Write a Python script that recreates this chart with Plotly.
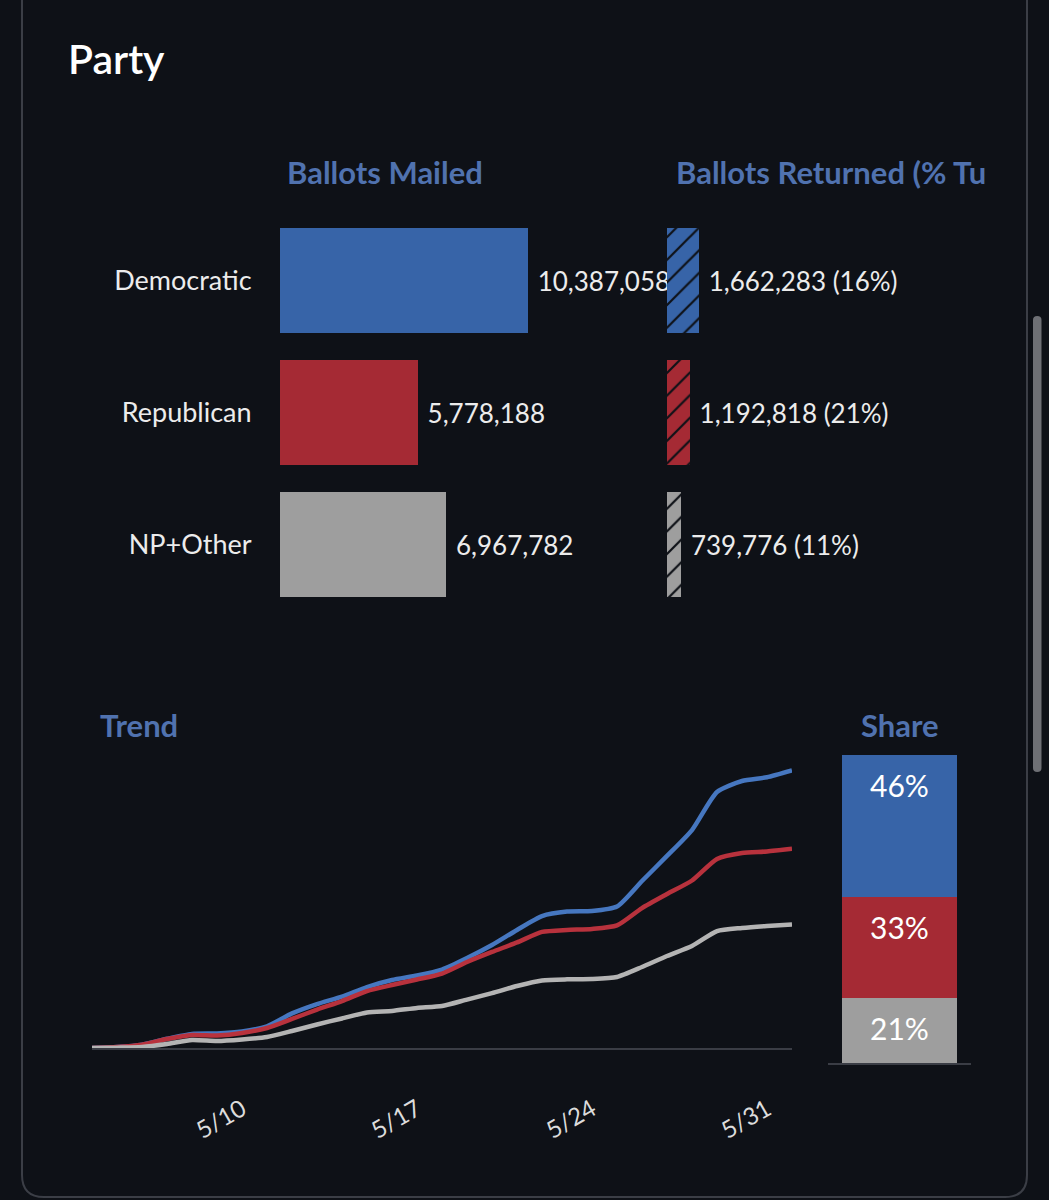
import plotly.graph_objects as go

# ---- data ----
PARTIES = ["Democratic", "Republican", "NP+Other"]
MAILED = [10387058, 5778188, 6967782]
RETURNED = [1662283, 1192818, 739776]
RETURNED_PCT = [16, 21, 11]
SHARE = [46, 33, 21]

DATES = [
    "2022-05-04", "2022-05-05", "2022-05-06", "2022-05-07", "2022-05-08",
    "2022-05-09", "2022-05-10", "2022-05-11", "2022-05-12", "2022-05-13",
    "2022-05-14", "2022-05-15", "2022-05-16", "2022-05-17", "2022-05-18",
    "2022-05-19", "2022-05-20", "2022-05-21", "2022-05-22", "2022-05-23",
    "2022-05-24", "2022-05-25", "2022-05-26", "2022-05-27", "2022-05-28",
    "2022-05-29", "2022-05-30", "2022-05-31", "2022-06-01",
]
# cumulative returned ballots, millions
TREND_DEM = [0.0, 0.006, 0.02, 0.055, 0.084, 0.087, 0.099, 0.13, 0.207, 0.263,
             0.308, 0.365, 0.407, 0.434, 0.47, 0.539, 0.617, 0.707, 0.79, 0.817,
             0.82, 0.847, 1.0, 1.15, 1.305, 1.533, 1.599, 1.621, 1.662]
TREND_REP = [0.0, 0.006, 0.02, 0.054, 0.078, 0.075, 0.09, 0.12, 0.174, 0.23,
             0.281, 0.341, 0.377, 0.41, 0.446, 0.515, 0.575, 0.632, 0.695, 0.707,
             0.713, 0.734, 0.838, 0.922, 1.003, 1.132, 1.168, 1.177, 1.193]
TREND_NP = [0.0, 0.002, 0.006, 0.024, 0.048, 0.042, 0.051, 0.066, 0.102, 0.141,
            0.177, 0.213, 0.222, 0.24, 0.251, 0.29, 0.329, 0.371, 0.404, 0.411,
            0.413, 0.425, 0.485, 0.551, 0.611, 0.70, 0.719, 0.731, 0.740]

BAR_COLORS = ["#3764a8", "#a52a34", "#9e9e9e"]
LINE_COLORS = ["#4677c0", "#b8323d", "#b4b4b4"]
BG = "#0e1117"
HEAD = "#5072af"
FONT = "Lato"
W, H = 1049, 1200


def px(x):
    return x / W


def py(y):
    return 1 - y / H


fig = go.Figure()

# ballots mailed
fig.add_trace(go.Bar(
    y=PARTIES, x=MAILED, orientation="h", width=0.795,
    marker=dict(color=BAR_COLORS, line=dict(width=0)),
    text=[" {:,}".format(v) for v in MAILED], textposition="outside",
    textfont=dict(size=26, color="#ececec", family=FONT),
    cliponaxis=False, constraintext="none",
    xaxis="x", yaxis="y", hoverinfo="skip",
))

# ballots returned (hatched), one trace per party so the hatch colour sticks
for party, v, p, col in zip(PARTIES, RETURNED, RETURNED_PCT, BAR_COLORS):
    fig.add_trace(go.Bar(
        y=[party], x=[v], orientation="h", width=0.795,
        marker=dict(color=col, line=dict(width=0),
                    pattern=dict(shape="/", fillmode="overlay", fgcolor=BG,
                                 fgopacity=1, size=16, solidity=0.14)),
        text=[" {:,} ({}%)".format(v, p)], textposition="outside",
        textfont=dict(size=26, color="#ececec", family=FONT),
        cliponaxis=False, constraintext="none",
        xaxis="x2", yaxis="y2", hoverinfo="skip",
    ))

# trend lines
for name, vals, col in zip(PARTIES, [TREND_DEM, TREND_REP, TREND_NP], LINE_COLORS):
    fig.add_trace(go.Scatter(
        x=DATES, y=[v * 1e6 for v in vals], mode="lines", name=name,
        line=dict(color=col, width=4.5, shape="spline", smoothing=0.6),
        xaxis="x3", yaxis="y3", hoverinfo="skip",
    ))

# share stacked bar (bottom to top)
tops = []
run = 0
for name, s, col in reversed(list(zip(PARTIES, SHARE, BAR_COLORS))):
    fig.add_trace(go.Bar(
        x=["Share"], y=[s], width=0.8, name=name,
        marker=dict(color=col, line=dict(width=0)),
        xaxis="x4", yaxis="y4", hoverinfo="skip",
    ))
    run += s
    tops.append((run, s))

for top, s in tops:
    fig.add_annotation(text="{}%".format(s), x="Share", y=top, xref="x4", yref="y4",
                       yanchor="top", yshift=-10, showarrow=False,
                       font=dict(size=30, color="#ffffff", family=FONT))

bar_dom = [py(610.5), py(214.5)]
hidden = dict(showgrid=False, zeroline=False, showticklabels=False, ticks="")

fig.update_layout(
    width=W, height=H, margin=dict(l=0, r=0, t=0, b=0),
    paper_bgcolor=BG, plot_bgcolor="rgba(0,0,0,0)",
    showlegend=False, barmode="stack",
    font=dict(family=FONT, color="#e6e6e6"),
    xaxis=dict(domain=[px(280), px(660)], range=[0, 10387058 * 380 / 248], **hidden),
    yaxis=dict(domain=bar_dom, type="category", categoryarray=PARTIES,
               autorange="reversed", showgrid=False, zeroline=False,
               ticks="outside", ticklen=22, tickcolor=BG,
               tickfont=dict(size=27, color="#ececec", family=FONT)),
    xaxis2=dict(domain=[px(667), px(1000)], range=[0, 1662283 * 333 / 32], **hidden),
    yaxis2=dict(domain=bar_dom, type="category", categoryarray=PARTIES,
                autorange="reversed", anchor="x2", **hidden),
    xaxis3=dict(domain=[px(92), px(792)], type="date",
                range=["2022-05-04", "2022-06-01"],
                tick0="2022-05-10", dtick=7 * 86400000, tickformat="%-m/%-d",
                tickangle=-30, ticks="outside", ticklen=36, tickcolor=BG,
                tickfont=dict(size=24, color="#dcdcdc", family=FONT),
                showgrid=False, zeroline=False,
                showline=True, linecolor="#3a3d45", linewidth=2, anchor="y3"),
    yaxis3=dict(domain=[py(1048), py(1048 - 1.8 * 167)], range=[0, 1.8e6],
                anchor="x3", **hidden),
    xaxis4=dict(domain=[px(828), px(971)], showline=True, linecolor="#3a3d45",
                linewidth=2, anchor="y4", **hidden),
    yaxis4=dict(domain=[py(1063), py(755)], range=[0, 100], anchor="x4", **hidden),
)

# headings
fig.add_annotation(text="Party", x=px(66), y=py(58), xref="paper", yref="paper",
                   xanchor="left", yanchor="middle", showarrow=False,
                   font=dict(size=41, color="#ffffff", family=FONT, weight=600))
heads = [
    ("Ballots Mailed", 385, 172, "center", None),
    ("Ballots Returned (% Turnout)", 674, 172, "left", 311),
    ("Trend", 98, 725, "left", None),
    ("Share", 900, 725, "center", None),
]
for txt, hx, hy, anc, wid in heads:
    fig.add_annotation(text=txt, x=px(hx), y=py(hy), xref="paper", yref="paper",
                       xanchor=anc, yanchor="middle", showarrow=False,
                       width=wid, align="left",
                       font=dict(size=31, color=HEAD, family=FONT, weight="bold"))

# card border with rounded bottom corners
r = 22
L, R, B = px(22), px(1027), py(1197)
rx, ry = r / W, r / H
card = ("M {L},1.01 L {L},{B1} Q {L},{B} {L1},{B} L {R1},{B} Q {R},{B} {R},{B1} "
        "L {R},1.01").format(L=L, R=R, B=B, B1=B + ry, L1=L + rx, R1=R - rx)
fig.add_shape(type="path", path=card, xref="paper", yref="paper",
              line=dict(color="#3b3e46", width=2), layer="below")

# scrollbar thumb
sx0, sx1, sy0, sy1 = px(1033), px(1041.5), py(316), py(772)
cr = 4 / H
thumb = ("M {x0},{a} Q {x0},{t} {xm},{t} Q {x1},{t} {x1},{a} L {x1},{b} "
         "Q {x1},{bt} {xm},{bt} Q {x0},{bt} {x0},{b} Z").format(
    x0=sx0, x1=sx1, xm=(sx0 + sx1) / 2, t=sy0, a=sy0 - cr, bt=sy1, b=sy1 + cr)
fig.add_shape(type="path", path=thumb, xref="paper", yref="paper",
              fillcolor="#6e7075", line=dict(width=0), layer="above")

fig.write_html("out.html", config={"displayModeBar": False},
               post_script="document.body.style.margin='0';document.body.style.overflow='hidden';")
